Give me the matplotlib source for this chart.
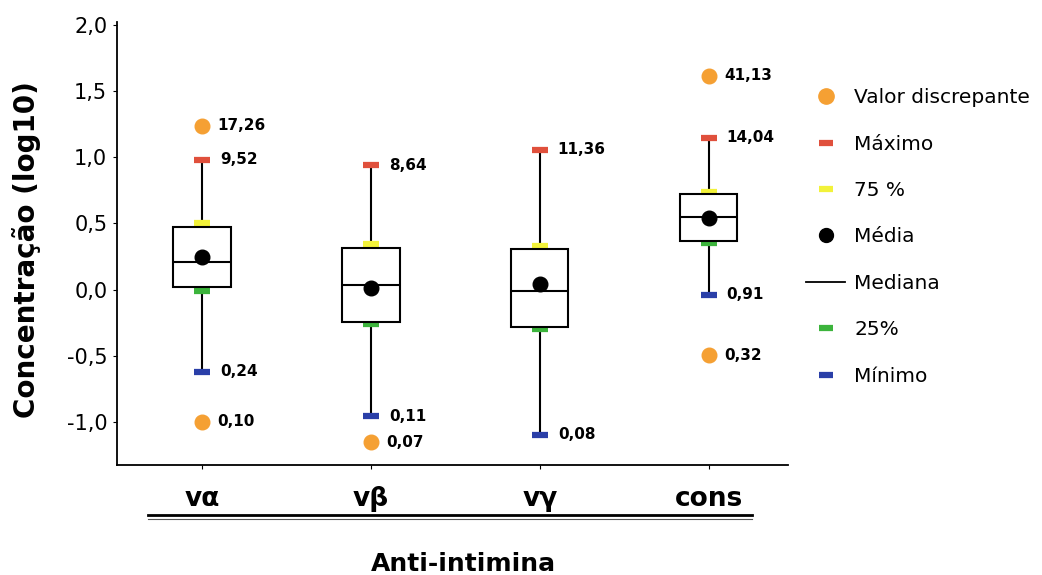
import numpy as np
import matplotlib
matplotlib.use("Agg")
import matplotlib.pyplot as plt
from matplotlib.lines import Line2D

# categories (anti-intimina)
groups = ["vα", "vβ", "vγ", "cons"]

# labelled values (concentration, not log)
maximo = [9.52, 8.64, 11.36, 14.04]
minimo = [0.24, 0.11, 0.08, 0.91]
outlier_group = [0, 0, 1, 3, 3]
outlier_val = [17.26, 0.10, 0.07, 41.13, 0.32]

# box values
q3_log = [0.474, 0.315, 0.303, 0.718]
q1_log = [0.02, -0.243, -0.28, 0.368]
p75_log = [0.50, 0.34, 0.325, 0.74]
p25_log = [-0.01, -0.26, -0.30, 0.353]
median_log = [0.21, 0.035, -0.01, 0.545]
mean_log = [0.245, 0.01, 0.04, 0.537]

c_out = "#F5A033"
c_max = "#E0503C"
c_q3 = "#F2F23A"
c_q1 = "#3CB43C"
c_min = "#2A3FA8"

plt.rcParams["font.family"] = "DejaVu Sans"

fig = plt.figure(figsize=(10.42, 5.75), dpi=100)
ax = fig.add_axes([117/1042, 1-465/575, (788-117)/1042, (465-22)/575])

x = np.arange(1, len(groups)+1)
w = 0.34

max_log = np.log10(maximo)
min_log = np.log10(minimo)
out_log = np.log10(outlier_val)

# whiskers
ax.vlines(x, min_log, max_log, color="black", lw=1.5, zorder=1)
# boxes
ax.bar(x, np.array(q3_log)-np.array(q1_log), bottom=q1_log, width=w,
       facecolor="white", edgecolor="black", linewidth=1.5, zorder=3)
ax.hlines(median_log, x-w/2, x+w/2, color="black", lw=1.5, zorder=4)
# quartile markers
ax.plot(x, p75_log, ls="none", marker="_", ms=12, mew=4.5, color=c_q3, zorder=2)
ax.plot(x, p25_log, ls="none", marker="_", ms=12, mew=4.5, color=c_q1, zorder=2)
ax.plot(x, mean_log, ls="none", marker="o", ms=10.5, color="black", zorder=5)
ax.plot(x, max_log, ls="none", marker="_", ms=12, mew=4.5, color=c_max, zorder=5)
ax.plot(x, min_log, ls="none", marker="_", ms=12, mew=4.5, color=c_min, zorder=5)
ax.plot(x[outlier_group], out_log, ls="none", marker="o", ms=10.5, color=c_out, zorder=5)

def fmt(v):
    return ("%.2f" % v).replace(".", ",")

for xi, v in zip(x, maximo):
    ax.annotate(fmt(v), (xi, np.log10(v)), xytext=(13, 0), textcoords="offset points",
                ha="left", va="center", fontsize=11, fontweight="bold")
for xi, v in zip(x, minimo):
    ax.annotate(fmt(v), (xi, np.log10(v)), xytext=(13, 0), textcoords="offset points",
                ha="left", va="center", fontsize=11, fontweight="bold")
for g, v in zip(outlier_group, outlier_val):
    ax.annotate(fmt(v), (x[g], np.log10(v)), xytext=(11, 0), textcoords="offset points",
                ha="left", va="center", fontsize=11, fontweight="bold")

ax.set_xlim(0.497, 4.47)
ax.set_ylim(-1.325, 2.02)
ax.set_xticks(x)
ax.set_xticklabels(groups, fontsize=19, fontweight="bold")
yt = [-1.0, -0.5, 0.0, 0.5, 1.0, 1.5, 2.0]
ax.set_yticks(yt)
ax.set_yticklabels([("%.1f" % t).replace(".", ",") for t in yt], fontsize=15)
ax.tick_params(axis="x", length=3, pad=12)
ax.tick_params(axis="y", length=3, pad=4)
ax.spines["top"].set_visible(False)
ax.spines["right"].set_visible(False)
ax.spines["left"].set_linewidth(1.3)
ax.spines["bottom"].set_linewidth(1.3)

fig.text(27/1042, 1-250/575, "Concentração (log10)", rotation=90, ha="center", va="center",
         fontsize=20, fontweight="bold")
fig.text(463/1042, 1-564/575, "Anti-intimina", ha="center", va="center",
         fontsize=18, fontweight="bold")

# double rule under the category labels
fig.add_artist(Line2D([148/1042, 752/1042], [1-515/575, 1-515/575], color="black", lw=2))
fig.add_artist(Line2D([148/1042, 752/1042], [1-519/575, 1-519/575], color="#555555", lw=0.8))

handles = [
    Line2D([], [], ls="none", marker="o", ms=11, color=c_out),
    Line2D([], [], ls="none", marker="_", ms=10, mew=4.5, color=c_max),
    Line2D([], [], ls="none", marker="_", ms=10, mew=4.5, color=c_q3),
    Line2D([], [], ls="none", marker="o", ms=10, color="black"),
    Line2D([], [], color="black", lw=1.3),
    Line2D([], [], ls="none", marker="_", ms=10, mew=4.5, color=c_q1),
    Line2D([], [], ls="none", marker="_", ms=10, mew=4.5, color=c_min),
]
labels = ["Valor discrepante", "Máximo", "75 %", "Média", "Mediana", "25%", "Mínimo"]
fig.legend(handles, labels, loc="center left", bbox_to_anchor=(806/1042, 1-237/575),
           frameon=False, fontsize=14.5, handlelength=1.95, handletextpad=0.45,
           labelspacing=1.36, borderpad=0, borderaxespad=0)

fig.savefig("out.png", dpi=100)
